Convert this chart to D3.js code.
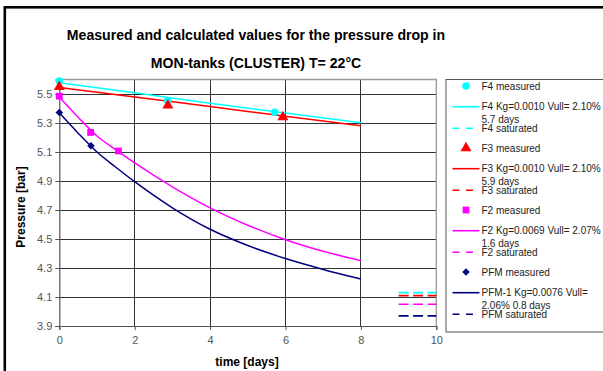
<!DOCTYPE html>
<html>
<head>
<meta charset="utf-8">
<script src="https://cdn.jsdelivr.net/npm/d3@7/dist/d3.min.js"></script>
<style>
  html, body { margin: 0; padding: 0; background: #fff; }
  svg { display: block; font-family: "Liberation Sans", Arial, sans-serif; }
</style>
</head>
<body>
<svg id="chart" width="603" height="371"></svg>
<script>
// Measured pressures [bar] against time [days]
const f4MeasT = [0, 2.87, 5.71];
const f4MeasP = [5.59, 5.455, 5.375];
const f3MeasT = [0, 2.88, 5.93];
const f3MeasP = [5.55, 5.422, 5.34];
const f2MeasT = [0, 0.83, 1.57];
const f2MeasP = [5.485, 5.235, 5.107];
const pfmMeasT = [0, 0.84];
const pfmMeasP = [5.372, 5.143];

// Calculated pressure curves
const slowCalcT = [0, 2, 4, 6, 8];
const f4CalcP = [5.578, 5.508, 5.437, 5.369, 5.302];
const f3CalcP = [5.545, 5.479, 5.413, 5.347, 5.281];
const fastCalcT = [0, 0.5, 1, 1.5, 2, 3, 4, 5, 6, 7, 8];
const f2CalcP = [5.48, 5.34, 5.21, 5.115, 5.025, 4.86, 4.715, 4.595, 4.495, 4.415, 4.35];
const pfmCalcP = [5.37, 5.23, 5.10, 4.995, 4.895, 4.715, 4.567, 4.455, 4.365, 4.29, 4.224];

// Saturated pressure levels, drawn between these times
const satT = [9, 10];
const f4SatP = 4.13;
const f3SatP = 4.11;
const f2SatP = 4.05;
const pfmSatP = 3.97;

// Axis ticks
const xTicks = [0, 2, 4, 6, 8, 10];
const yTicks = [3.9, 4.1, 4.3, 4.5, 4.7, 4.9, 5.1, 5.3, 5.5];

const titleLines = ["Measured and calculated values for the pressure drop in",
                    "MON-tanks (CLUSTER) T= 22°C"];
const legendLabels = {
  f4: ["F4 measured", "F4 Kg=0.0010 Vull= 2.10%", "5.7 days", "F4 saturated"],
  f3: ["F3 measured", "F3 Kg=0.0010 Vull= 2.10%", "5.9 days", "F3 saturated"],
  f2: ["F2 measured", "F2 Kg=0.0069 Vull= 2.07%", "1.6 days", "F2 saturated"],
  pfm: ["PFM measured", "PFM-1 Kg=0.0076 Vull=", "2.06% 0.8 days", "PFM saturated"]
};

const series = [
  { key: "f4", color: "#00FFFF", marker: "circle", mt: f4MeasT, mp: f4MeasP, ct: slowCalcT, cp: f4CalcP, sat: f4SatP },
  { key: "f3", color: "#FF0000", marker: "triangle", mt: f3MeasT, mp: f3MeasP, ct: slowCalcT, cp: f3CalcP, sat: f3SatP },
  { key: "f2", color: "#FF00FF", marker: "square", mt: f2MeasT, mp: f2MeasP, ct: fastCalcT, cp: f2CalcP, sat: f2SatP },
  { key: "pfm", color: "#000080", marker: "diamond", mt: pfmMeasT, mp: pfmMeasP, ct: fastCalcT, cp: pfmCalcP, sat: pfmSatP }
];

const svg = d3.select("#chart");
const plot = { left: 59.3, right: 436.3, top: 79.5, bottom: 326 };

const x = d3.scaleLinear().domain([0, 10]).range([plot.left, plot.right]);
const y = d3.scaleLinear().domain([3.9, 5.6]).range([plot.bottom, plot.top]);

// Outer frame (only top and left edges fall inside the page)
svg.append("rect")
  .attr("x", 4.8).attr("y", 7.3)
  .attr("width", 640).attr("height", 400)
  .attr("fill", "none").attr("stroke", "#000").attr("stroke-width", 2.6);

// Title
svg.append("g").selectAll("text").data(titleLines).join("text")
  .attr("x", 256).attr("y", (d, i) => 40 + i * 28)
  .attr("text-anchor", "middle")
  .attr("font-size", 14.1).attr("font-weight", "bold")
  .attr("fill", "#000")
  .text(d => d);

// Gridlines
const grid = svg.append("g").attr("shape-rendering", "crispEdges");
grid.selectAll("line.h").data(yTicks.slice(1)).join("line")
  .attr("x1", plot.left).attr("x2", plot.right)
  .attr("y1", d => y(d)).attr("y2", d => y(d))
  .attr("stroke", "#333").attr("stroke-width", 1);
grid.selectAll("line.v").data(xTicks.slice(1, -1)).join("line")
  .attr("x1", d => x(d)).attr("x2", d => x(d))
  .attr("y1", plot.top).attr("y2", plot.bottom)
  .attr("stroke", "#333").attr("stroke-width", 1);
// plot area top and right edges
svg.append("path")
  .attr("d", `M${plot.left},${plot.top}H${plot.right}V${plot.bottom}`)
  .attr("fill", "none").attr("stroke", "#999").attr("stroke-width", 1.3);

// Axes
const yAxis = svg.append("g").attr("transform", `translate(${plot.left},0)`)
  .call(d3.axisLeft(y).tickValues(yTicks).tickFormat(d3.format(".1f")).tickSize(4).tickPadding(3));
const xAxis = svg.append("g").attr("transform", `translate(0,${plot.bottom})`)
  .call(d3.axisBottom(x).tickValues(xTicks).tickFormat(d3.format("d")).tickSize(4).tickPadding(6));
[yAxis, xAxis].forEach(a => {
  a.select(".domain").attr("stroke", "#555").attr("stroke-width", 1.2);
  a.selectAll(".tick line").attr("stroke", "#555");
  a.selectAll(".tick text").attr("fill", "#555").attr("font-size", 11)
    .attr("font-family", "\"Liberation Sans\", Arial, sans-serif");
});

// Axis titles
svg.append("text")
  .attr("transform", "translate(25,207) rotate(-90)")
  .attr("text-anchor", "middle")
  .attr("font-size", 12).attr("font-weight", "bold")
  .text("Pressure [bar]");
svg.append("text")
  .attr("x", 247).attr("y", 366)
  .attr("text-anchor", "middle")
  .attr("font-size", 12).attr("font-weight", "bold")
  .text("time [days]");

// Marker shapes
const symbolFor = {
  circle: { path: d3.symbol().type(d3.symbolCircle).size(44)(), rot: 0 },
  triangle: { path: d3.symbol().type(d3.symbolTriangle).size(52)(), rot: 0 },
  square: { path: d3.symbol().type(d3.symbolSquare).size(46)(), rot: 0 },
  diamond: { path: d3.symbol().type(d3.symbolSquare).size(28)(), rot: 45 }
};

const line = d3.line().x(d => x(d[0])).y(d => y(d[1])).curve(d3.curveMonotoneX);
const marks = svg.append("g");

series.forEach(s => {
  // saturated level
  marks.append("path")
    .attr("d", line(satT.map(t => [t, s.sat])))
    .attr("fill", "none").attr("stroke", s.color).attr("stroke-width", 1.7)
    .attr("stroke-dasharray", "10,4.5");
});
series.forEach(s => {
  // calculated curve
  marks.append("path")
    .attr("d", line(s.ct.map((t, i) => [t, s.cp[i]])))
    .attr("fill", "none").attr("stroke", s.color).attr("stroke-width", 1.5);
});
series.forEach(s => {
  const sym = symbolFor[s.marker];
  marks.append("g").selectAll("path").data(s.mt.map((t, i) => [t, s.mp[i]])).join("path")
    .attr("transform", d => `translate(${x(d[0])},${y(d[1])}) rotate(${sym.rot})`)
    .attr("d", sym.path)
    .attr("fill", s.color);
});

// Legend
const legend = svg.append("g");
legend.append("rect")
  .attr("x", 446).attr("y", 79.5).attr("width", 200).attr("height", 252.5)
  .attr("fill", "#fff").attr("stroke", "#555").attr("stroke-width", 1);

series.forEach((s, k) => {
  const base = 86 + k * 62;
  const labels = legendLabels[s.key];
  const sym = symbolFor[s.marker];
  const g = legend.append("g");
  g.append("path")
    .attr("transform", `translate(466,${base}) rotate(${sym.rot})`)
    .attr("d", sym.path)
    .attr("fill", s.color);
  g.append("line")
    .attr("x1", 452.5).attr("x2", 479.5)
    .attr("y1", base + 20.7).attr("y2", base + 20.7)
    .attr("stroke", s.color).attr("stroke-width", 1.6);
  g.append("line")
    .attr("x1", 452.5).attr("x2", 479.5)
    .attr("y1", base + 42.3).attr("y2", base + 42.3)
    .attr("stroke", s.color).attr("stroke-width", 1.6)
    .attr("stroke-dasharray", "7,6.5");
  const rows = [base, base + 20.7, base + 33.3, base + 42.3];
  g.selectAll("text").data(labels).join("text")
    .attr("x", 481.5).attr("y", (d, i) => rows[i] + 3.6)
    .attr("font-size", 10).attr("fill", "#222")
    .text(d => d);
});
</script>
</body>
</html>
